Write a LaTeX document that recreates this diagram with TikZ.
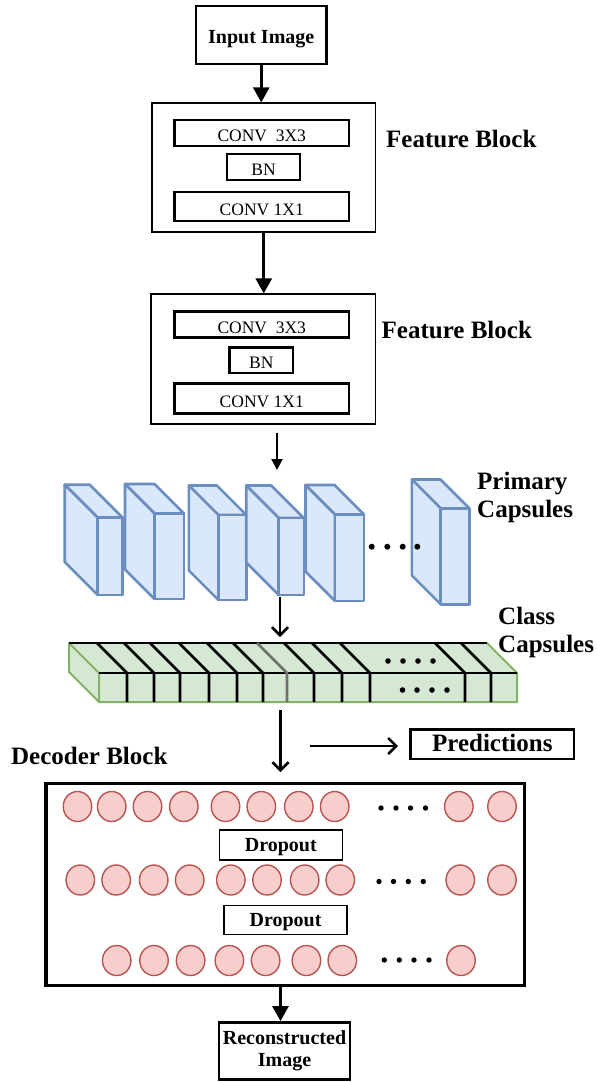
\documentclass[tikz,border=0pt]{standalone}
\usepackage{fontspec}
\setmainfont{Liberation Serif}
\usetikzlibrary{arrows.meta,shapes.geometric}
\definecolor{slabfill}{HTML}{DAE8FC}
\definecolor{slabline}{HTML}{6C8EBF}
\definecolor{barfill}{HTML}{D5E8D4}
\definecolor{barline}{HTML}{82B366}
\definecolor{neufill}{HTML}{F8CECC}
\definecolor{neuline}{HTML}{B85450}
\definecolor{divgray}{HTML}{707070}
\tikzset{
  heavybox/.style={draw, line width=2.8pt, inner sep=0pt, align=center, font=\bfseries\fontsize{20}{21.5}\selectfont},
  layerbox/.style={draw, line width=2.6pt, inner sep=0pt, text height=17pt, text depth=0pt, font=\fontsize{17.5}{20}\selectfont},
  blockbox/.style={draw, line width=1.2pt, inner sep=0pt},
  decbox/.style={draw, line width=3.2pt, inner sep=0pt},
  dropbox/.style={draw, line width=1.5pt, inner sep=0pt, text height=14pt, text depth=0.8pt, font=\bfseries\fontsize{20}{22}\selectfont},
  predbox/.style={draw, line width=2.8pt, inner sep=0pt, text height=14pt, text depth=0pt, font=\bfseries\fontsize{25}{28}\selectfont},
  heading/.style={inner sep=0pt, align=left, font=\bfseries\fontsize{25}{28}\selectfont},
  neuron/.style={ellipse, draw=neuline, fill=neufill, line width=1.4pt, minimum width=28.5pt, minimum height=30pt, inner sep=0pt},
  slab/.style={fill=slabfill, draw=slabline, line width=2.6pt, line join=round},
  solidarrow/.style={line width=2.6pt, -{Triangle[length=15pt,width=16pt]}},
  thinarrow/.style={line width=2pt, -{Triangle[length=11pt,width=11pt]}},
  openarrow/.style={line width=2.5pt, -{Straight Barb[length=8pt,width=16pt]}},
  divider/.style={line width=2.6pt},
}
\newcommand{\capslab}[5]{%
  \filldraw[slab] (#1-#5,#3-#5) -- (#2-#5,#3-#5) -- (#2,#3) -- (#1,#3) -- cycle;
  \filldraw[slab] (#1-#5,#3-#5) -- (#1,#3) -- (#1,#4) -- (#1-#5,#4-#5) -- cycle;
  \filldraw[slab] (#1,#3) rectangle (#2,#4);
}
\begin{document}
\begin{tikzpicture}[x=1pt,y=-1pt]
\useasboundingbox (0,0) rectangle (597,1082);

% input
\node[heavybox, text height=18pt, text depth=0.8pt, minimum width=130.5pt, minimum height=58pt] (input) at (261.25,35) {Input Image};

% feature block 1
\node[blockbox, minimum width=223.5pt, minimum height=129pt] (fb1) at (263.75,167.5) {};
\node[layerbox, minimum width=174.5pt, minimum height=26pt] (c11) at (261.75,133) {CONV\ \ 3X3};
\node[layerbox, minimum width=73pt, minimum height=26pt] (bn1) at (263.5,167) {BN};
\node[layerbox, minimum width=174.5pt, minimum height=29pt] (c12) at (261.75,206.5) {CONV 1X1};
\node[heading, anchor=base west] (fbl1) at (386,147) {Feature Block};

% feature block 2
\node[blockbox, minimum width=224.5pt, minimum height=130pt] (fb2) at (263.25,359) {};
\node[layerbox, minimum width=174.5pt, minimum height=25.6pt] (c21) at (261.75,324.5) {CONV\ \ 3X3};
\node[layerbox, minimum width=63.4pt, minimum height=25.3pt] (bn2) at (261.3,360.3) {BN};
\node[layerbox, minimum width=174.5pt, minimum height=29.6pt] (c22) at (261.75,398.5) {CONV 1X1};
\node[heading, anchor=base west] (fbl2) at (381.5,338.3) {Feature Block};

\draw[solidarrow] (input.south) -- (input.south |- fb1.north);
\draw[solidarrow] (fb1.south) -- (fb1.south |- fb2.north);

% primary capsules
\capslab{97.7}{122.7}{517.7}{595}{33}
\capslab{154.5}{184}{513.5}{599}{29.5}
\capslab{218.4}{246.4}{515}{600}{29.5}
\capslab{278.7}{303.8}{518}{595}{32.5}
\capslab{335}{364}{514.5}{601}{29.5}
\capslab{440.7}{469.3}{508.3}{604.3}{28.8}
\foreach \x in {371.7,387.3,402.7,417.3} \fill (\x,546.7) circle (3pt);
\node[heading, anchor=north west] (pcl) at (477,472) {Primary\\Capsules};

\coordinate (pcin) at (277,470);
\draw[thinarrow] ([yshift=-8pt]fb2.south -| pcin) -- (pcin);

% class capsules
\coordinate (pcout) at (280,597);
\coordinate (ccin) at (280,637);
\draw[openarrow] (pcout) -- (ccin);

\fill[barfill] (69,643) -- (487,643) -- (517,673) -- (517,702) -- (99,702) -- (69,672) -- cycle;
\draw[barline, line width=2pt, line join=round] (487,643) -- (517,673) -- (517,702) -- (99,702) -- (69,672) -- (69,643) -- (99,673) -- (99,702);
\draw[divider] (69,643) -- (487,643);
\draw[divider] (99,673) -- (517,673);
\foreach \t in {97,124,150,179,207,233,284,312,340,435,461}
  \draw[divider] (\t,643) -- (\t+30,673) -- (\t+30,702);
\draw[divider, divgray] (257,643) -- (287,673) -- (287,702);
\foreach \x in {388,403,418,433} \fill (\x,661) circle (2.8pt);
\foreach \x in {402.5,417,432,447} \fill (\x,690) circle (2.8pt);
\node[heading, anchor=north west] (ccl) at (498,606.5) {Class\\Capsules};

% predictions
\coordinate (ccout) at (280.5,710);
\coordinate (decin) at (280.5,772);
\draw[openarrow] (ccout) -- (decin);
\node[predbox, minimum width=163.4pt, minimum height=29.7pt] (pred) at (492.3,744.2) {Predictions};
\coordinate (predfrom) at (310,746);
\coordinate (predto) at (398,746);
\draw[openarrow] (predfrom) -- (predto);

% decoder
\node[heading, anchor=base west] (decl) at (11,764) {Decoder Block};
\node[decbox, minimum width=478.3pt, minimum height=202.4pt] (dec) at (285.15,884.5) {};
\foreach \x [count=\i] in {77.5,111.7,147.5,183.8,225.5,261.3,298.8,334.7,458.8,502}
  \node[neuron] (ra\i) at (\x,806.5) {};
\foreach \x in {381,396,410.5,425.5} \fill (\x,808) circle (2.7pt);
\node[dropbox, minimum width=123pt, minimum height=30pt] (drop1) at (280.8,845) {Dropout};
\foreach \x [count=\i] in {80.3,116.2,153.7,189.7,230.8,267,304.7,340.3,460.3,502}
  \node[neuron] (rb\i) at (\x,880) {};
\foreach \x in {379,393.5,408.3,423.3} \fill (\x,881.5) circle (2.7pt);
\node[dropbox, minimum width=123pt, minimum height=29pt] (drop2) at (285.5,919.8) {Dropout};
\foreach \x [count=\i] in {116.7,154,190.6,229.4,265.6,306.4,342.3,461}
  \node[neuron] (rc\i) at (\x,960.5) {};
\foreach \x in {384.3,399.3,414,429} \fill (\x,960) circle (2.7pt);

% reconstructed
\node[heavybox, minimum width=131pt, minimum height=57pt] (recon) at (284.5,1051) {Reconstructed\\Image};
\draw[solidarrow] (dec.south -| ccout) -- (recon.north -| ccout);
\end{tikzpicture}
\end{document}
